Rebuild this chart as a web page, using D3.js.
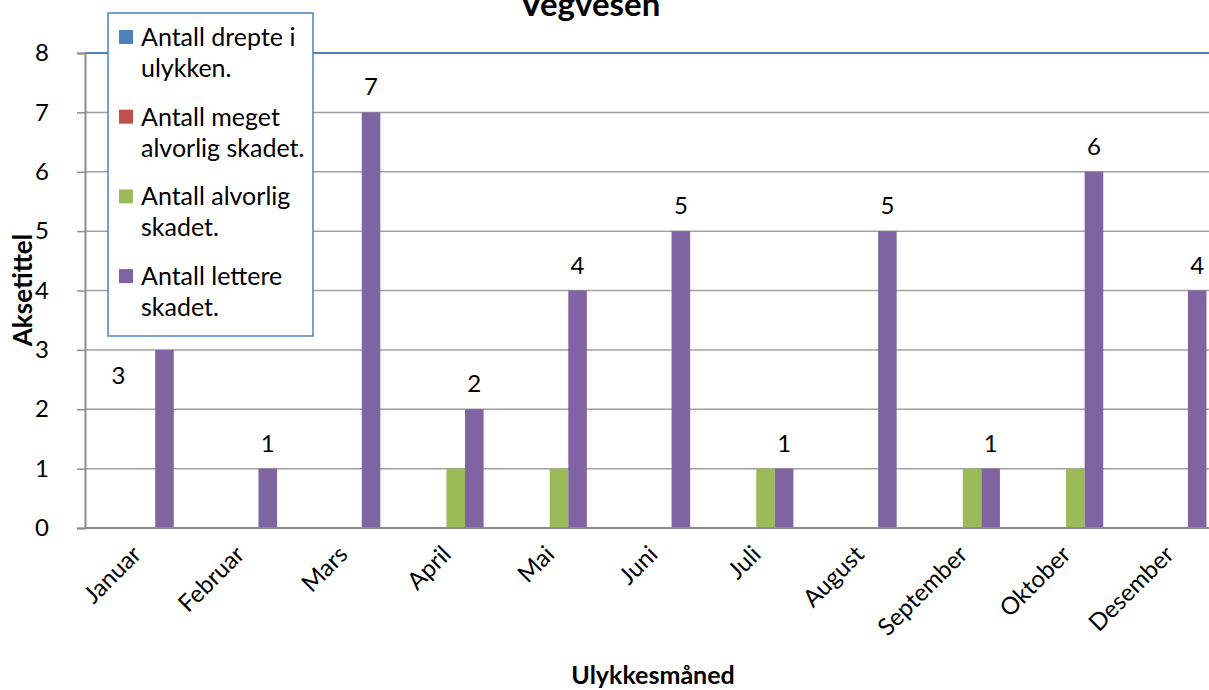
<!DOCTYPE html>
<html lang="no">
<head>
<meta charset="utf-8">
<title>Vegvesen</title>
<script src="https://d3js.org/d3.v7.min.js"></script>
<style>
    body { margin: 0; background: white; }
    svg { font-family: Lato, "Open Sans", sans-serif; }
</style>
</head>
<body>
<div id="chart"></div>
<script>
    // data
    const months = ["Januar", "Februar", "Mars", "April", "Mai", "Juni", "Juli", "August", "September", "Oktober", "Desember"];
    const seriesNames = ["Antall drepte i ulykken.", "Antall meget alvorlig skadet.", "Antall alvorlig skadet.", "Antall lettere skadet."];
    const drepte   = [0, 0, 0, 0, 0, 0, 0, 0, 0, 0, 0];
    const meget    = [0, 0, 0, 0, 0, 0, 0, 0, 0, 0, 0];
    const alvorlig = [0, 0, 0, 1, 1, 0, 1, 0, 1, 1, 0];
    const lettere  = [3, 1, 7, 2, 4, 5, 1, 5, 1, 6, 4];
    const yTicks = [0, 1, 2, 3, 4, 5, 6, 7, 8];

    // legend lines as wrapped in the original
    const legendLines = [["Antall drepte i", "ulykken."], ["Antall meget", "alvorlig skadet."], ["Antall alvorlig", "skadet."], ["Antall lettere", "skadet."]];
    const colors = ["#4F81BD", "#C0504D", "#9BBB59", "#8064A2"];

    const values = [drepte, meget, alvorlig, lettere];

    var width = 1209, height = 690;
    var plotLeft = 85, plotRight = 1221, plotTop = 53, plotBottom = 528;

    var svg = d3.select("#chart").append("svg")
        .attr("width", width)
        .attr("height", height);

    var x0 = d3.scaleBand().domain(months).range([plotLeft, plotRight]).padding(0);
    var x1 = d3.scaleBand().domain(d3.range(4))
        .range([14.5, x0.bandwidth() - 14.5]).padding(0);
    var y = d3.scaleLinear().domain([0, 8]).range([plotBottom, plotTop]);

    // gridlines
    svg.append("g").selectAll("line")
        .data(yTicks.filter(d => d > 0))
        .enter().append("line")
        .attr("x1", plotLeft).attr("x2", plotRight)
        .attr("y1", d => y(d)).attr("y2", d => y(d))
        .attr("stroke", d => d === 8 ? "#4F81BD" : "#A0A0A0")
        .attr("stroke-width", d => d === 8 ? 2 : 1.5);

    // y axis
    var yAxis = svg.append("g")
        .attr("transform", "translate(" + plotLeft + ",0)")
        .call(d3.axisLeft(y).tickValues(yTicks).tickSize(8).tickPadding(28).tickFormat(d3.format("d")));
    yAxis.select(".domain").attr("stroke", "#8C8C8C").attr("stroke-width", 2);
    yAxis.selectAll(".tick line").attr("stroke", "#8C8C8C").attr("stroke-width", 1.5);
    yAxis.selectAll(".tick text").attr("font-size", 24).attr("fill", "#000")
        .style("font-family", "Lato, sans-serif");

    // bars
    var groups = svg.append("g").selectAll("g")
        .data(months)
        .enter().append("g")
        .attr("transform", d => "translate(" + x0(d) + ",0)");

    groups.selectAll("rect")
        .data((m, i) => values.map((v, s) => ({s: s, v: v[i]})))
        .enter().append("rect")
        .attr("x", d => x1(d.s))
        .attr("width", x1.bandwidth())
        .attr("y", d => y(d.v))
        .attr("height", d => y(0) - y(d.v))
        .attr("fill", d => colors[d.s]);

    // x axis line
    svg.append("line")
        .attr("x1", plotLeft).attr("x2", plotRight)
        .attr("y1", plotBottom).attr("y2", plotBottom)
        .attr("stroke", "#8C8C8C").attr("stroke-width", 2);

    // x labels, rotated
    svg.append("g").selectAll("text")
        .data(months)
        .enter().append("text")
        .attr("transform", d => "translate(" + (x0(d) + x0.bandwidth() / 2 + 6) + "," + (plotBottom + 28) + ") rotate(-45)")
        .attr("text-anchor", "end")
        .attr("font-size", 24)
        .text(d => d);

    // data labels on lettere skadet; Januar label was dragged aside in the original
    const labelShift = {Januar: [-46, 51]};
    svg.append("g").selectAll("text")
        .data(months)
        .enter().append("text")
        .attr("x", (d, i) => x0(d) + x1(3) + x1.bandwidth() / 2 + (labelShift[d] ? labelShift[d][0] : 0))
        .attr("y", (d, i) => y(lettere[i]) - 17 + (labelShift[d] ? labelShift[d][1] : 0))
        .attr("text-anchor", "middle")
        .attr("font-size", 24)
        .text((d, i) => lettere[i]);

    // titles
    svg.append("text")
        .attr("x", 590).attr("y", 16)
        .attr("text-anchor", "middle")
        .attr("font-size", 33).attr("font-weight", "bold")
        .text("Vegvesen");

    svg.append("text")
        .attr("transform", "translate(32,290) rotate(-90)")
        .attr("text-anchor", "middle")
        .attr("font-size", 26).attr("font-weight", "bold")
        .text("Aksetittel");

    svg.append("text")
        .attr("x", 653).attr("y", 684)
        .attr("text-anchor", "middle")
        .attr("font-size", 25).attr("font-weight", "bold")
        .text("Ulykkesmåned");

    // legend
    var legend = svg.append("g").attr("transform", "translate(108,13)");
    legend.append("rect")
        .attr("width", 205).attr("height", 323)
        .attr("fill", "white")
        .attr("stroke", "#4F81BD").attr("stroke-width", 1.5);

    var items = legend.selectAll("g.item")
        .data(seriesNames)
        .enter().append("g")
        .attr("class", "item")
        .attr("transform", (d, i) => "translate(0," + (i * 79.7) + ")");

    items.append("rect")
        .attr("x", 11).attr("y", 17)
        .attr("width", 14).attr("height", 14)
        .attr("fill", (d, i) => colors[i]);

    items.append("text")
        .attr("font-size", 25)
        .selectAll("tspan")
        .data((d, i) => legendLines[i])
        .enter().append("tspan")
        .attr("x", 33)
        .attr("y", (d, j) => 33 + j * 31)
        .text(d => d);
</script>
</body>
</html>
